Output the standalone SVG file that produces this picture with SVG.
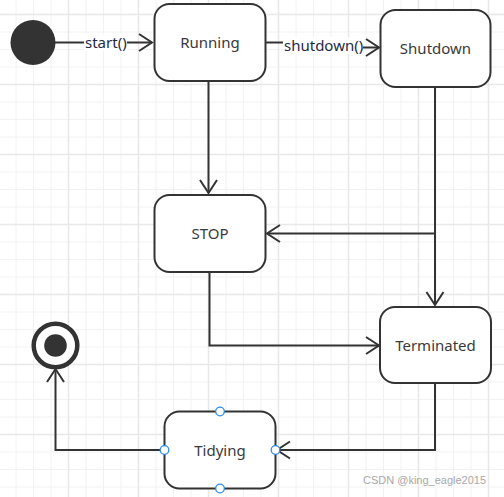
<svg xmlns="http://www.w3.org/2000/svg" width="504" height="497" viewBox="0 0 504 497">
<defs>
<style>
.grid-minor{stroke:#f2f2f2;stroke-width:1;fill:none}
.grid-major{stroke:#e8e8e8;stroke-width:1.5;fill:none}
.node rect{fill:#fff;stroke:#333;stroke-width:2}
.node text{font-family:"Noto Sans","Open Sans","DejaVu Sans",sans-serif;font-size:15px;fill:#3a3a3a;text-anchor:middle}
.conn path{fill:none;stroke:#333;stroke-width:2}
.lbl-bg{fill:#fff;stroke:none}
.lbl{font-family:"Noto Sans","Open Sans","DejaVu Sans",sans-serif;font-size:15px;fill:#1e2a44}
.handle{fill:#fff;stroke:#2d8cf0;stroke-width:1.3}
.wm{font-family:"Liberation Sans","DejaVu Sans",sans-serif;font-size:11px;fill:#a8a8a8}
</style>
<marker id="arr" viewBox="-16 -11 18 22" markerWidth="18" markerHeight="22" refX="0" refY="0" orient="auto" markerUnits="userSpaceOnUse">
<path d="M-13,-8.5 L0,0 L-13,8.5" fill="none" stroke="#333" stroke-width="2"/>
</marker>
</defs>
<rect x="0" y="0" width="504" height="497" fill="#fff"/>
<g id="grid">
<path class="grid-minor" d="M16,0V497M33.5,0V497M51,0V497M86,0V497M103.5,0V497M121,0V497M156,0V497M173.5,0V497M191,0V497M226,0V497M243.5,0V497M261,0V497M296,0V497M313.5,0V497M331,0V497M366,0V497M383.5,0V497M401,0V497M436,0V497M453.5,0V497M471,0V497
M0,32H504M0,49.5H504M0,67H504M0,102H504M0,119.5H504M0,137H504M0,172H504M0,189.5H504M0,207H504M0,242H504M0,259.5H504M0,277H504M0,312H504M0,329.5H504M0,347H504M0,382H504M0,399.5H504M0,417H504M0,452H504M0,469.5H504M0,487H504"/>
<path class="grid-major" d="M68.5,0V497M138.5,0V497M208.5,0V497M278.5,0V497M348.5,0V497M418.5,0V497M488.5,0V497M0,14.5H504M0,84.5H504M0,154.5H504M0,224.5H504M0,294.5H504M0,364.5H504M0,434.5H504"/>
</g>
<g id="connectors" class="conn">
<path d="M55,42.5H152" marker-end="url(#arr)"/>
<path d="M266,42.5H322V47.5H379" marker-end="url(#arr)"/>
<path d="M208.5,81V193" marker-end="url(#arr)"/>
<path d="M435,87V233.5H267" marker-end="url(#arr)"/>
<path d="M435,87V305" marker-end="url(#arr)"/>
<path d="M209.5,272V345.5H379" marker-end="url(#arr)"/>
<path d="M435,383V450H277" marker-end="url(#arr)"/>
<path d="M163,450H55.5V369" marker-end="url(#arr)"/>
</g>
<g id="labels">
<rect class="lbl-bg" x="84" y="34" width="43" height="17"/>
<text class="lbl" x="85" y="48">start()</text>
<rect class="lbl-bg" x="283" y="37" width="80" height="17"/>
<text class="lbl" x="284" y="51">shutdown()</text>
</g>
<g id="initial"><circle cx="33" cy="42.5" r="22.5" fill="#333"/></g>
<g id="running" class="node"><rect x="154.5" y="4" width="111" height="77" rx="15"/><text x="210" y="48">Running</text></g>
<g id="shutdown" class="node"><rect x="380.5" y="10" width="110" height="77" rx="15"/><text x="435.5" y="53.5">Shutdown</text></g>
<g id="stop" class="node"><rect x="154.5" y="195" width="111" height="77" rx="15"/><text x="210" y="239">STOP</text></g>
<g id="terminated" class="node"><rect x="380" y="307" width="111" height="76" rx="15"/><text x="435.5" y="351">Terminated</text></g>
<g id="tidying" class="node"><rect x="164.5" y="411.5" width="111" height="77" rx="15"/><text x="220" y="455.5">Tidying</text>
<circle class="handle" cx="220" cy="411.5" r="4.3"/><circle class="handle" cx="220" cy="488.5" r="4.3"/><circle class="handle" cx="164.5" cy="450" r="4.3"/><circle class="handle" cx="275.5" cy="450" r="4.3"/></g>
<g id="final"><circle cx="55.5" cy="345.5" r="21.8" fill="#fff" stroke="#333" stroke-width="4.5"/><circle cx="55.5" cy="345.5" r="11.3" fill="#333"/></g>
<text class="wm" x="363" y="484">CSDN @king_eagle2015</text>
</svg>
